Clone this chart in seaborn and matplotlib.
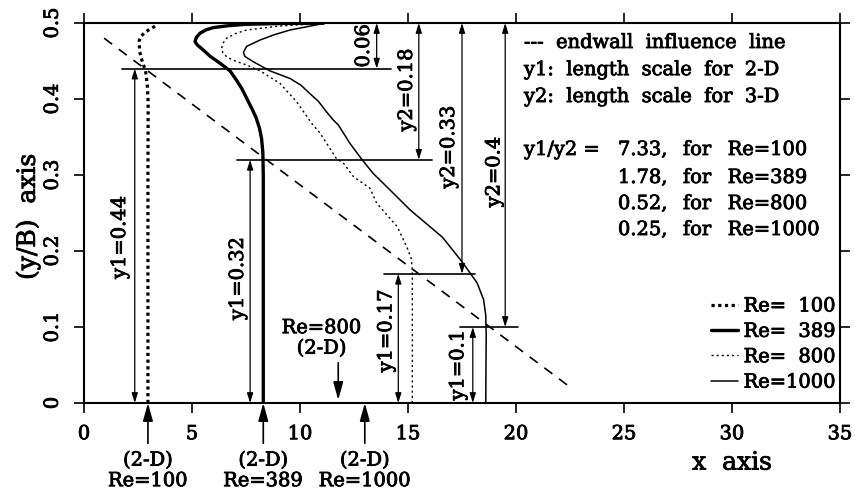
import numpy as np
import pandas as pd
import matplotlib
matplotlib.use("Agg")
import matplotlib.pyplot as plt
import matplotlib.patheffects as pe
import seaborn as sns

# ---------------- data ----------------
re_labels = ["Re=  100", "Re=  389", "Re=  800", "Re=1000"]

re100_x = [2.96, 2.96, 2.97, 2.93, 2.85, 2.70, 2.58, 2.55, 2.62, 2.78, 3.00, 3.24, 3.42]
re100_y = [0.0, 0.30, 0.396, 0.418, 0.437, 0.449, 0.462, 0.476, 0.482, 0.4865, 0.491, 0.495, 0.498]

re389_x = [8.30, 8.30, 8.28, 8.22, 8.12, 7.96, 7.76, 7.53, 7.30, 7.03, 6.76, 6.30, 5.85,
           5.52, 5.25, 5.14, 5.20, 5.37, 5.65, 5.99, 6.70, 7.53, 9.00, 11.08]
re389_y = [0.0, 0.30, 0.33, 0.348, 0.362, 0.376, 0.388, 0.401, 0.414, 0.426, 0.437, 0.447,
           0.456, 0.4645, 0.471, 0.4755, 0.481, 0.4865, 0.491, 0.494, 0.4965, 0.4983,
           0.4993, 0.4998]

re800_x = [15.20, 15.20, 15.15, 14.95, 14.50, 13.55, 13.24, 12.47, 12.00, 11.70, 10.93,
           10.54, 10.00, 9.84, 9.07, 8.15, 7.53, 6.90, 6.60, 6.42, 6.37, 6.45, 6.60, 7.00,
           7.53, 9.07, 10.50, 11.10]
re800_y = [0.0, 0.175, 0.19, 0.205, 0.232, 0.263, 0.2825, 0.298, 0.316, 0.321, 0.355,
           0.368, 0.390, 0.3965, 0.4206, 0.437, 0.4447, 0.451, 0.4557, 0.461, 0.4667,
           0.474, 0.480, 0.486, 0.4908, 0.4961, 0.4985, 0.4995]

re1000_x = [18.60, 18.62, 18.60, 18.50, 18.20, 18.00, 17.55, 16.60, 15.10, 14.09, 13.39,
            12.85, 12.31, 11.77, 11.54, 11.23, 10.85, 10.50, 10.05, 9.54, 8.61, 7.84, 7.45,
            7.38, 7.53, 8.15, 8.80, 9.54, 10.90, 11.15]
re1000_y = [0.0, 0.09, 0.115, 0.136, 0.158, 0.166, 0.184, 0.218, 0.254, 0.2825, 0.302,
            0.321, 0.3417, 0.366, 0.3724, 0.383, 0.397, 0.406, 0.418, 0.427, 0.437, 0.449,
            0.456, 0.4614, 0.4693, 0.4776, 0.4845, 0.4908, 0.4983, 0.4995]

# endwall influence line end points
endwall_x = [0.93, 22.5]
endwall_y = [0.480, 0.021]

# length scales: y1 (2-D) and y2 (3-D)
y1_vals = [0.44, 0.32, 0.17, 0.10]
y2_vals = [0.06, 0.18, 0.33, 0.40]
y1_text = ["y1=0.44", "y1=0.32", "y1=0.17", "y1=0.1"]
y2_text = ["0.06", "y2=0.18", "y2=0.33", "y2=0.4"]

# 2-D reattachment positions marked below the axis
twod_x = [2.96, 8.30, 13.0]
twod_text = ["(2-D)\nRe=100", "(2-D)\nRe=389", "(2-D)\nRe=1000"]
re800_2d_x = 11.77

ratio_vals = ["7.33,", "1.78,", "0.52,", "0.25,"]
ratio_re = ["Re=100", "Re=389", "Re=800", "Re=1000"]

x_ticks = [0, 5, 10, 15, 20, 25, 30, 35]
y_ticks = [0.0, 0.1, 0.2, 0.3, 0.4, 0.5]
y_tick_labels = ["0", "0.1", "0.2", "0.3", "0.4", "0.5"]

# ---------------- style ----------------
sns.set_theme(style="ticks")
plt.rcParams["font.family"] = ["DejaVu Serif"]
plt.rcParams["axes.linewidth"] = 1.5
plt.rcParams["text.color"] = "black"
plt.rcParams["axes.labelcolor"] = "black"

FS = 14
# slightly heavier strokes for all lettering
heavy = [pe.withStroke(linewidth=0.6, foreground="black")]

fig = plt.figure(figsize=(8.55, 4.93), dpi=100)
ax = fig.add_axes([84 / 855, 1 - 403 / 493, 756 / 855, 380 / 493])

curves = pd.concat([
    pd.DataFrame({"x": re100_x, "y": re100_y, "Re": re_labels[0]}),
    pd.DataFrame({"x": re389_x, "y": re389_y, "Re": re_labels[1]}),
    pd.DataFrame({"x": re800_x, "y": re800_y, "Re": re_labels[2]}),
    pd.DataFrame({"x": re1000_x, "y": re1000_y, "Re": re_labels[3]}),
], ignore_index=True)

line_styles = {
    re_labels[0]: dict(lw=2.3, linestyle=(0, (1, 1.1))),
    re_labels[1]: dict(lw=2.4, linestyle="-"),
    re_labels[2]: dict(lw=1.0, linestyle=(0, (1.5, 2.2))),
    re_labels[3]: dict(lw=1.1, linestyle="-"),
}

for lab in re_labels:
    sub = curves[curves["Re"] == lab]
    sns.lineplot(data=sub, x="x", y="y", sort=False, estimator=None, color="black",
                 label=lab, ax=ax, **line_styles[lab])

# endwall influence line
ax.plot(endwall_x, endwall_y, color="black", lw=1.2, linestyle=(0, (6, 5)))

ax.set_xlim(0, 35)
ax.set_ylim(0, 0.5)
ax.set_xticks(x_ticks)
ax.set_xticklabels([str(t) for t in x_ticks])
ax.set_yticks(y_ticks)
ax.set_yticklabels(y_tick_labels)
ax.tick_params(direction="out", length=7, width=1.2, top=True, right=True,
               labeltop=False, labelright=False, labelsize=FS, pad=9, colors="black")
ax.tick_params(axis="y", labelrotation=90)
for lbl in ax.get_yticklabels():
    lbl.set_va("center")
for lbl in ax.get_xticklabels() + ax.get_yticklabels():
    lbl.set_path_effects(heavy)
for s in ax.spines.values():
    s.set_color("black")

ax.set_xlabel("x  axis", fontsize=18, path_effects=heavy)
ax.xaxis.set_label_coords(30 / 35, -0.158)
ax.xaxis.label.set_va("center")
ax.set_ylabel("(y/B)  axis", fontsize=18, path_effects=heavy)
ax.yaxis.set_label_coords(-0.074, 0.49)
ax.yaxis.label.set_va("center")

# ---------------- length scale markers ----------------
hline_x0 = [1.77, 7.1, 13.9, 17.4]
hline_x1 = [14.2, 16.1, 18.1, 20.1]
y1_arrow_x = [2.35, 7.69, 14.55, 18.0]
y2_arrow_x = [13.55, 15.5, 17.5, 19.5]
y1_lab_pos = [(1.67, 0.218), (7.13, 0.164), (14.0, 0.095), (17.33, 0.05)]
y2_lab_pos = [(12.96, 0.470), (14.95, 0.412), (16.9, 0.337), (19.0, 0.304)]

small_head = dict(arrowstyle="<|-|>,head_length=0.45,head_width=0.14", color="black",
                  lw=0.9, shrinkA=0, shrinkB=0, mutation_scale=13)

for i in range(4):
    lev = y1_vals[i]
    ax.plot([hline_x0[i], hline_x1[i]], [lev, lev], color="black", lw=1.2)
    ax.annotate("", xy=(y1_arrow_x[i], lev), xytext=(y1_arrow_x[i], 0.0),
                arrowprops=small_head)
    ax.annotate("", xy=(y2_arrow_x[i], 0.5), xytext=(y2_arrow_x[i], lev),
                arrowprops=small_head)
    ax.text(*y1_lab_pos[i], y1_text[i], rotation=90, ha="center", va="center",
            fontsize=FS, path_effects=heavy)
    ax.text(*y2_lab_pos[i], y2_text[i], rotation=90, ha="center", va="center",
            fontsize=FS, path_effects=heavy)

# ---------------- 2-D markers ----------------
big_head = dict(arrowstyle="-|>,head_length=0.9,head_width=0.25", color="black",
                lw=1.2, shrinkA=0, shrinkB=0, mutation_scale=12)
for xv, txt in zip(twod_x, twod_text):
    ax.annotate("", xy=(xv, 0.0), xytext=(xv, -0.053), arrowprops=big_head,
                annotation_clip=False)
    ax.text(xv, -0.064, txt, ha="center", va="top", fontsize=FS, linespacing=1.18,
            clip_on=False, path_effects=heavy)

ax.annotate("", xy=(re800_2d_x, 0.004), xytext=(re800_2d_x, 0.053), arrowprops=big_head)
ax.text(11.0, 0.085, "Re=800\n(2-D)", ha="center", va="center", fontsize=FS,
        linespacing=1.18, path_effects=heavy)

# ---------------- notes ----------------
note_y = [0.4737, 0.438, 0.4026]
notes = ["---  endwall  influence  line", "y1:  length  scale  for  2-D",
         "y2:  length  scale  for  3-D"]
for yv, txt in zip(note_y, notes):
    ax.text(20.37, yv, txt, ha="left", va="center", fontsize=FS, path_effects=heavy)

ratio_y = [0.3329, 0.2961, 0.2618, 0.2276]
ax.text(20.37, ratio_y[0], "y1/y2 =", ha="left", va="center", fontsize=FS,
        path_effects=heavy)
for yv, val, re in zip(ratio_y, ratio_vals, ratio_re):
    ax.text(24.72, yv, val, ha="left", va="center", fontsize=FS, path_effects=heavy)
    ax.text(27.73, yv, "for", ha="left", va="center", fontsize=FS, path_effects=heavy)
    ax.text(29.8, yv, re, ha="left", va="center", fontsize=FS, path_effects=heavy)

leg = ax.legend(loc="lower right", bbox_to_anchor=(0.995, 0.03), frameon=False,
                fontsize=FS, handlelength=1.4, handletextpad=0.3, labelspacing=0.38,
                borderpad=0, borderaxespad=0)
for t in leg.get_texts():
    t.set_path_effects(heavy)

fig.savefig("out.png", dpi=100)
